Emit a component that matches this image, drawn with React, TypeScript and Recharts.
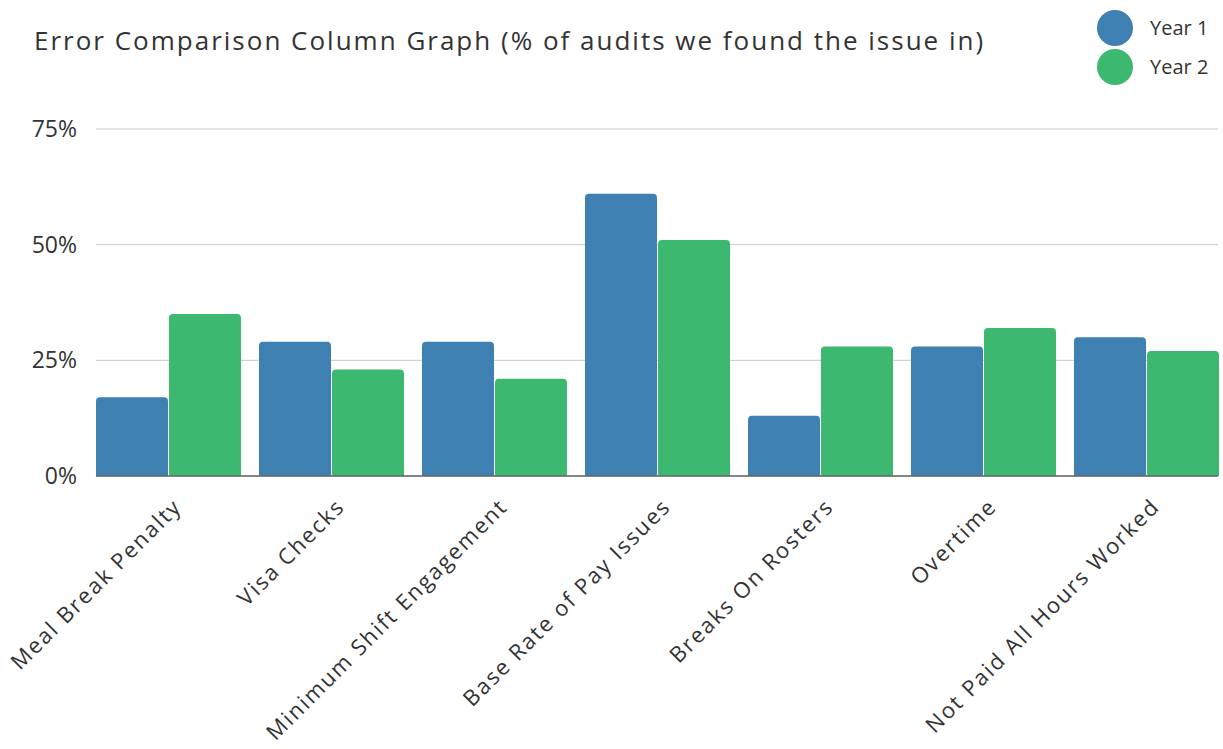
import React from 'react'
import { BarChart, Bar, XAxis, YAxis, CartesianGrid } from 'recharts'

const categories = [
  'Meal Break Penalty',
  'Visa Checks',
  'Minimum Shift Engagement',
  'Base Rate of Pay Issues',
  'Breaks On Rosters',
  'Overtime',
  'Not Paid All Hours Worked',
]
const year1 = [17, 29, 29, 61, 13, 28, 30]
const year2 = [35, 23, 21, 51, 28, 32, 27]
const yTicks = [0, 25, 50, 75]

const FONT = '"Open Sans", sans-serif'
const BLUE = '#3E80B2'
const GREEN = '#3CB870'

const data = categories.map((name, i) => ({ name, y1: year1[i], y2: year2[i] }))

const XTick = (props: any) => {
  const { x, y, payload } = props
  const px = x + 15
  const py = y + 24
  return (
    <text
      x={px}
      y={py}
      textAnchor="end"
      transform={`rotate(-45, ${px}, ${py})`}
      fill="#333"
      fontSize={22}
      fontFamily={FONT}
      letterSpacing={1.9}
    >
      {payload.value}
    </text>
  )
}

export default function App() {
  return (
    <div style={{ position: 'absolute', left: 0, top: 0, width: 1223, height: 749, background: '#fff' }}>
      <svg width={1223} height={100} style={{ position: 'absolute', left: 0, top: 0 }}>
        <text x={34} y={50} fontSize={26} fill="#333" fontFamily={FONT} letterSpacing={2}>
          Error Comparison Column Graph (% of audits we found the issue in)
        </text>
        {[
          { label: 'Year 1', color: BLUE, cy: 28 },
          { label: 'Year 2', color: GREEN, cy: 67 },
        ].map((d) => (
          <g key={d.label}>
            <circle cx={1115} cy={d.cy} r={18} fill={d.color} />
            <text x={1150} y={d.cy + 7} fontSize={20} fill="#333" fontFamily={FONT}>
              {d.label}
            </text>
          </g>
        ))}
      </svg>
      <BarChart
        width={1223}
        height={749}
        data={data}
        margin={{ top: 129, right: 5, bottom: 0, left: 0 }}
        barCategoryGap={9.5}
        barGap={1}
      >
        <CartesianGrid vertical={false} stroke="#c8c8c8" />
        <XAxis
          dataKey="name"
          interval={0}
          tick={<XTick />}
          tickLine={false}
          axisLine={{ stroke: '#666', strokeWidth: 1.5 }}
          padding={{ left: -9.5, right: -9.5 }}
          height={273}
        />
        <YAxis
          width={96}
          domain={[0, 75]}
          ticks={yTicks}
          tickFormatter={(v: number) => `${v}%`}
          axisLine={false}
          tickLine={false}
          tickSize={0}
          tickMargin={19}
          tick={{ fontSize: 23, fill: '#333', fontFamily: FONT }}
        />
        <Bar dataKey="y1" name="Year 1" fill={BLUE} radius={[4, 4, 0, 0]} isAnimationActive={false} />
        <Bar dataKey="y2" name="Year 2" fill={GREEN} radius={[4, 4, 0, 0]} isAnimationActive={false} />
      </BarChart>
    </div>
  )
}
